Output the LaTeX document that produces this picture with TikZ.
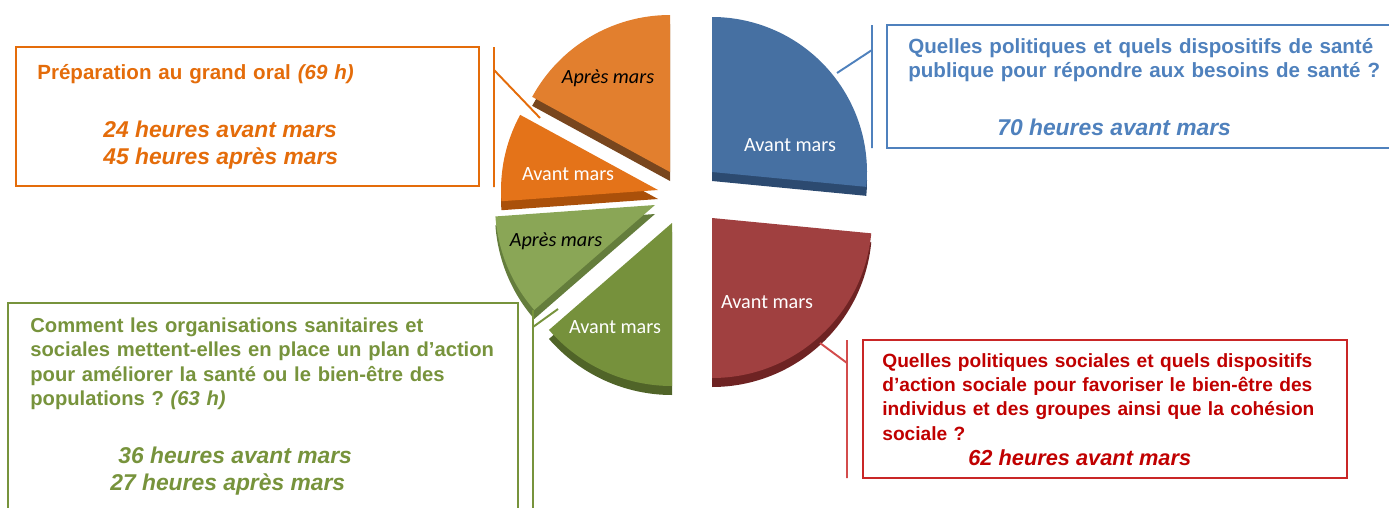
\documentclass[tikz,border=0pt]{standalone}
\usepackage{fontspec}
\setmainfont{Liberation Sans}
\newfontfamily\calib{Carlito}
\frenchspacing

% couleurs des textes et des cadres
\definecolor{bleuT}{RGB}{79,129,189}
\definecolor{rougeT}{RGB}{192,0,0}
\definecolor{vertT}{RGB}{119,147,60}
\definecolor{orangeT}{RGB}{228,108,10}
% couleurs des parts
\definecolor{bleuP}{RGB}{70,112,162}
\definecolor{bleuF}{RGB}{44,74,112}
\definecolor{rougeP}{RGB}{160,64,64}
\definecolor{rougeF}{RGB}{110,35,35}
\definecolor{vertP}{RGB}{118,145,60}
\definecolor{vertF}{RGB}{80,100,40}
\definecolor{vertC}{RGB}{138,166,86}
\definecolor{vertCF}{RGB}{100,125,60}
\definecolor{orangeP}{RGB}{226,127,46}
\definecolor{orangePF}{RGB}{120,70,30}
\definecolor{orangeC}{RGB}{228,115,25}
\definecolor{orangeCF}{RGB}{170,80,10}

% une part : sommet, angle debut, angle fin, rayon, couleur, couleur de l'epaisseur
\newcommand{\tranche}[6]{%
  \fill[#6,shift={(0,-9)}] (#1) -- ++(#2:#4) arc[start angle=#2, end angle=#3, radius=#4] -- cycle;
  \fill[#5] (#1) -- ++(#2:#4) arc[start angle=#2, end angle=#3, radius=#4] -- cycle;}

\begin{document}
\begin{tikzpicture}[x=0.02cm,y=0.02cm]
    \tikzstyle{every node}=[inner sep=0pt]
    \tikzstyle{titre}=[font=\bfseries\fontsize{11.7}{14}\selectfont, anchor=base west, align=left, text width=12cm]
    \tikzstyle{heures}=[font=\bfseries\itshape\fontsize{13}{16}\selectfont, anchor=base west]
    \tikzstyle{avant}=[font=\calib\fontsize{11.5}{14}\selectfont, text=white]
    \tikzstyle{apres}=[font=\calib\itshape\fontsize{11.5}{14}\selectfont, text=black]
    \tikzstyle{cadre}=[line width=1.1pt]
    \useasboundingbox (0,0) rectangle (1389,-507);

    % les six parts du camembert
    \tranche{712,-172}{-5.5}{90}{155}{bleuP}{bleuF}
    \tranche{712,-218}{-90}{-5.5}{160}{rougeP}{rougeF}
    \tranche{672,-223}{221}{270}{163}{vertP}{vertF}
    \tranche{655,-205}{184.1}{221}{160}{vertC}{vertCF}
    \tranche{658,-190}{151.4}{184.1}{157}{orangeC}{orangeCF}
    \tranche{670,-172}{90}{151.4}{157}{orangeP}{orangePF}

    \node[avant] (pBleu) at (790,-145) {Avant mars};
    \node[avant] (pRouge) at (767,-302) {Avant mars};
    \node[avant] (pVert) at (615,-327) {Avant mars};
    \node[apres] (pVertC) at (556,-241) {Après mars};
    \node[avant] (pOrange) at (568,-174) {Avant mars};
    \node[apres] (pOrangeC) at (608,-78) {Après mars};

    % cadres
    \draw[cadre,bleuT] (887,-25) rectangle (1395,-148);
    \draw[cadre,rougeT!85] (863,-340) rectangle (1347,-478);
    \draw[cadre,vertT] (8,-303) rectangle (518,-515);
    \draw[cadre,orangeT] (16,-47) rectangle (479,-186);

    % textes
    \node[titre,text=bleuT] (tBleu) at (908,-53)
      {Quelles politiques et quels dispositifs de santé\\publique pour répondre aux besoins de santé ?};
    \node[heures,text=bleuT] (hBleu) at (997,-135) {70 heures avant mars};

    \node[titre,text=rougeT,font=\bfseries\fontsize{10.9}{13.9}\selectfont] (tRouge) at (882,-367)
      {Quelles politiques sociales et quels dispositifs\\d’action sociale pour favoriser le bien-être des\\individus et des groupes ainsi que la cohésion\\sociale ?};
    \node[heures,text=rougeT,font=\bfseries\itshape\fontsize{12.4}{15}\selectfont] (hRouge) at (968,-465) {62 heures avant mars};

    \node[titre,text=vertT,font=\bfseries\fontsize{11.5}{14}\selectfont] (tVert) at (30,-332)
      {Comment les organisations sanitaires et\\sociales mettent-elles en place un plan d’action\\pour améliorer la santé ou le bien-être des\\populations ? \textit{(63 h)}};
    \node[heures,text=vertT] (hVertA) at (118,-463) {36 heures avant mars};
    \node[heures,text=vertT] (hVertB) at (110,-490) {27 heures après mars};

    \node[titre,text=orangeT] (tOrange) at (37,-79) {Préparation au grand oral \textit{(69 h)}};
    \node[heures,text=orangeT] (hOrangeA) at (103,-137) {24 heures avant mars};
    \node[heures,text=orangeT] (hOrangeB) at (103,-164) {45 heures après mars};

    % accolades et traits de rappel
    \coordinate (bH) at (872,-25); \coordinate (bB) at (872,-148);
    \coordinate (bM) at (872,-50); \coordinate (bP) at (837,-73);
    \draw[cadre,bleuT] (bH) -- (bB) (bM) -- (bP);
    \coordinate (rH) at (847,-340); \coordinate (rB) at (847,-478);
    \coordinate (rM) at (847,-363); \coordinate (rP) at (820,-343);
    \draw[cadre,rougeT!70] (rH) -- (rB) (rM) -- (rP);
    \coordinate (vH) at (533,-310); \coordinate (vB) at (533,-515);
    \coordinate (vM) at (533,-327); \coordinate (vP) at (558,-309);
    \draw[cadre,vertT] (vH) -- (vB) (vM) -- (vP);
    \coordinate (oH) at (494,-47); \coordinate (oB) at (494,-187);
    \coordinate (oM) at (494,-70); \coordinate (oP) at (540,-118);
    \draw[cadre,orangeT] (oH) -- (oB) (oM) -- (oP);
\end{tikzpicture}
\end{document}
